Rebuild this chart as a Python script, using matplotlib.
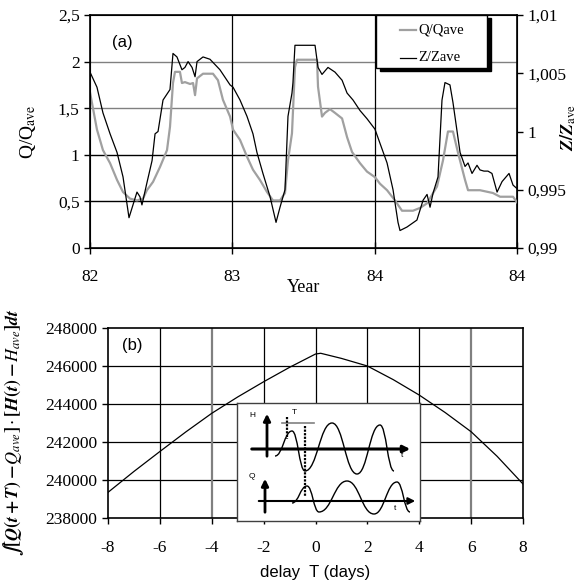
import numpy as np
import matplotlib
matplotlib.use("Agg")
import matplotlib.pyplot as plt
from matplotlib.path import Path
from matplotlib.patches import PathPatch, Rectangle
from matplotlib.lines import Line2D

plt.rcParams['mathtext.fontset'] = 'stix'

# ---------------- data (a) ----------------
q_year = [82.000, 82.049, 82.091, 82.141, 82.190, 82.232, 82.281, 82.330, 82.372, 82.400,
          82.443, 82.492, 82.541, 82.562, 82.583, 82.597, 82.632, 82.646, 82.667, 82.703,
          82.724, 82.738, 82.752, 82.794, 82.864, 82.899, 82.934, 82.984, 83.005, 83.054,
          83.103, 83.145, 83.194, 83.244, 83.286, 83.335, 83.370, 83.391, 83.419, 83.440,
          83.454, 83.595, 83.602, 83.630, 83.651, 83.686, 83.721, 83.771, 83.806, 83.841,
          83.897, 83.946, 84.002, 84.037, 84.087, 84.143, 84.192, 84.269, 84.319, 84.368,
          84.438, 84.480, 84.515, 84.550, 84.586, 84.635, 84.656, 84.740, 84.831, 84.881,
          84.972, 85.000]
q_ratio = [1.67, 1.27, 1.05, 0.91, 0.73, 0.60, 0.53, 0.51, 0.53, 0.62,
           0.71, 0.87, 1.05, 1.30, 1.77, 1.89, 1.89, 1.77, 1.78, 1.76,
           1.77, 1.64, 1.82, 1.87, 1.87, 1.80, 1.59, 1.41, 1.27, 1.16,
           0.98, 0.84, 0.73, 0.60, 0.51, 0.51, 0.59, 0.94, 1.23, 1.94,
           2.02, 2.02, 1.73, 1.41, 1.45, 1.49, 1.45, 1.39, 1.19, 1.03,
           0.91, 0.82, 0.76, 0.69, 0.62, 0.51, 0.40, 0.40, 0.43, 0.48,
           0.66, 0.94, 1.25, 1.25, 1.02, 0.73, 0.62, 0.62, 0.59, 0.55,
           0.55, 0.49]

z_year = [82.000, 82.049, 82.091, 82.141, 82.190, 82.232, 82.274, 82.302, 82.330, 82.351,
          82.365, 82.400, 82.436, 82.457, 82.478, 82.513, 82.562, 82.583, 82.611, 82.646,
          82.667, 82.689, 82.717, 82.738, 82.752, 82.794, 82.843, 82.913, 82.984, 83.005,
          83.054, 83.103, 83.145, 83.173, 83.215, 83.265, 83.307, 83.335, 83.370, 83.391,
          83.419, 83.426, 83.440, 83.581, 83.602, 83.630, 83.672, 83.721, 83.771, 83.806,
          83.848, 83.897, 83.946, 84.002, 84.037, 84.087, 84.129, 84.164, 84.178, 84.227,
          84.297, 84.340, 84.368, 84.389, 84.410, 84.445, 84.473, 84.494, 84.529, 84.550,
          84.600, 84.635, 84.656, 84.684, 84.719, 84.740, 84.768, 84.796, 84.824, 84.860,
          84.895, 84.944, 84.972, 85.000]
z_ratio = [1.0051, 1.0038, 1.0016, 0.9998, 0.9982, 0.9961, 0.9926, 0.9937, 0.9948, 0.9944,
           0.9937, 0.9956, 0.9975, 0.9998, 1.0000, 1.0027, 1.0036, 1.0067, 1.0064, 1.0053,
           1.0055, 1.0060, 1.0055, 1.0047, 1.0060, 1.0064, 1.0062, 1.0053, 1.0040, 1.0038,
           1.0027, 1.0013, 0.9998, 0.9982, 0.9964, 0.9944, 0.9922, 0.9935, 0.9950, 1.0013,
           1.0033, 1.0042, 1.0074, 1.0074, 1.0055, 1.0049, 1.0055, 1.0051, 1.0044, 1.0033,
           1.0027, 1.0018, 1.0011, 1.0002, 0.9990, 0.9973, 0.9950, 0.9922, 0.9915, 0.9918,
           0.9924, 0.9941, 0.9946, 0.9935, 0.9947, 0.9961, 1.0027, 1.0042, 1.0040, 1.0025,
           0.9982, 0.9970, 0.9973, 0.9964, 0.9971, 0.9967, 0.9966, 0.9966, 0.9964, 0.9948,
           0.9957, 0.9964, 0.9954, 0.9951]

series_names = ['Q/Qave', 'Z/Zave']
a_xticks = [82, 83, 84, 85]
a_xticklabels = ["82", "83", "84", "84"]
a_lticks = [0, 0.5, 1, 1.5, 2, 2.5]
a_lticklabels = ["0", "0,5", "1", "1,5", "2", "2,5"]
a_rticks = [0.99, 0.995, 1.0, 1.005, 1.01]
a_rticklabels = ["0,99", "0,995", "1", "1,005", "1,01"]

# ---------------- data (b) ----------------
delay = [-8, -7, -6, -5, -4, -3, -2, -1, 0, 0.2, 1, 2, 3, 4, 5, 6, 7, 8]
corr = [239350, 240450, 241500, 242530, 243510, 244370, 245170, 245930, 246630, 246670,
        246400, 246000, 245280, 244470, 243550, 242540, 241250, 239790]
b_xticks = [-8, -6, -4, -2, 0, 2, 4, 6, 8]
b_yticks = [238000, 240000, 242000, 244000, 246000, 248000]

serif = 'Liberation Serif'
sans = 'Liberation Sans'

fig = plt.figure(figsize=(5.83, 5.84), dpi=100)

# ---------------- panel (a) ----------------
axa = fig.add_axes([90/583, 1-248/584, 427/583, 233/584])
axa.set_xlim(82, 85)
axa.set_ylim(0, 2.5)
for v, c in [(0.5, 'black'), (1.0, 'black'), (1.5, '#808080'), (2.0, '#808080')]:
    axa.axhline(v, color=c, lw=1.0, zorder=1)
for v in [83, 84]:
    axa.axvline(v, color='black', lw=0.9, zorder=1)
axa.plot(q_year, q_ratio, color='#a0a0a0', lw=1.6, zorder=3)
axa.set_xticks(a_xticks)
axa.set_xticklabels(a_xticklabels, fontfamily=serif, fontsize=12.5)
axa.set_yticks(a_lticks)
axa.set_yticklabels(a_lticklabels, fontfamily=serif, fontsize=12.5)
axa.tick_params(axis='both', direction='out', length=4, width=1)
axa.tick_params(axis='x', direction='inout', length=8, pad=11)
axa.set_ylabel(r'Q/Q$_{\mathrm{ave}}$', fontfamily=serif, fontsize=14)
axa.yaxis.set_label_coords(-(90 - 38) / 427, 0.5)
axa.set_xlabel('Year', fontfamily=serif, fontsize=13, labelpad=-4)
axa.text(0.052, 0.88, '(a)', transform=axa.transAxes, fontfamily=sans, fontsize=12,
         va='center')
for s in axa.spines.values():
    s.set_linewidth(1.2)

axr = axa.twinx()
axr.set_ylim(0.99, 1.01)
axr.plot(z_year, z_ratio, color='black', lw=0.9, zorder=4)
axr.set_yticks(a_rticks)
axr.set_yticklabels(a_rticklabels, fontfamily=serif, fontsize=12.5)
axr.tick_params(axis='y', direction='out', length=4, width=1)
axr.set_ylabel(r'$\boldsymbol{Z/Z}_{\mathrm{ave}}$', fontsize=13, rotation=90, va='center')
axr.yaxis.set_label_coords((568 - 90) / 427, (248 - 128) / 233)

# legend box (drawn by hand to match the reference padding)
T = axr.transAxes
bx0, bx1, by0, by1 = 0.670, 0.930, 0.7725, 1.0
axr.add_patch(Rectangle((bx0 + 0.008, by0 - 0.013), bx1 - bx0, by1 - by0, transform=T,
                        facecolor='black', edgecolor='black', zorder=9, clip_on=False))
axr.add_patch(Rectangle((bx0, by0), bx1 - bx0, by1 - by0, transform=T,
                        facecolor='white', edgecolor='black', lw=1.0, zorder=10,
                        clip_on=False))
for yy, col, lw, name in [(0.9356, '#a0a0a0', 1.6, series_names[0]),
                          (0.8155, 'black', 0.9, series_names[1])]:
    axr.add_line(Line2D([0.726, 0.763], [yy, yy], transform=T, color=col, lw=lw,
                        zorder=11))
    axr.text(0.768, yy, name, transform=T, fontfamily=serif, fontsize=10.5,
             va='center', ha='left', zorder=11)

# ---------------- panel (b) ----------------
axb = fig.add_axes([108/583, 1-518/584, 415/583, 190/584])
axb.set_xlim(-8, 8)
axb.set_ylim(238000, 248000)
for v in b_yticks[1:-1]:
    axb.axhline(v, color='black', lw=0.9, zorder=1)
for v in b_xticks[1:-1]:
    if v in (-4, 6):
        axb.axvline(v, color='#808080', lw=1.6, zorder=1)
    else:
        axb.axvline(v, color='black', lw=0.9, zorder=1)
axb.plot(delay, corr, color='black', lw=0.9, zorder=3)
axb.set_xticks(b_xticks)
axb.set_xticklabels([str(v) for v in b_xticks], fontfamily=serif, fontsize=12.5)
axb.set_yticks(b_yticks)
axb.set_yticklabels([str(v) for v in b_yticks], fontfamily=serif, fontsize=12.5)
axb.tick_params(axis='both', direction='out', length=4, width=1)
axb.tick_params(axis='x', pad=12)
axb.set_xlabel('delay  T (days)', fontfamily=sans, fontsize=12, labelpad=6)
axb.set_ylabel(r'$\boldsymbol{\int[Q(t+T)-Q_{ave}]}\cdot\boldsymbol{[H(t)-H_{ave}]dt}$',
               fontsize=13)
axb.yaxis.set_label_coords(-(108 - 26) / 415, (518 - 432) / 190)
axb.text(0.034, 0.91, '(b)', transform=axb.transAxes, fontfamily=sans, fontsize=12,
         va='center')
for s in axb.spines.values():
    s.set_linewidth(1.2)

# ---------------- inset schematic ----------------
ins = fig.add_axes([237/583, 1-521/584, 183/583, 118/584])
ins.set_xlim(0, 183)
ins.set_ylim(118, 0)
ins.set_xticks([])
ins.set_yticks([])
for s in ins.spines.values():
    s.set_color('#404040')
    s.set_linewidth(1.0)
ins.set_zorder(5)

h_ext = [(38, 53), (55, 28), (68, 68), (95, 20), (120, 71), (143, 22), (157, 68)]
q_ext = [(55, 100), (70, 83), (82, 109), (110, 78), (137, 111), (160, 79), (173, 109)]


def smooth_path(pts):
    verts = [pts[0]]
    codes = [Path.MOVETO]
    for (x0, y0), (x1, y1) in zip(pts[:-1], pts[1:]):
        d = (x1 - x0) * 0.45
        verts += [(x0 + d, y0), (x1 - d, y1), (x1, y1)]
        codes += [Path.CURVE4] * 3
    return Path(verts, codes)


ins.add_patch(PathPatch(smooth_path(h_ext), fc='none', ec='black', lw=1.0))
ins.add_patch(PathPatch(smooth_path(q_ext), fc='none', ec='black', lw=1.0))

ins.annotate('', xy=(176, 46), xytext=(12, 46),
             arrowprops=dict(arrowstyle='-|>', lw=2.2, color='black', mutation_scale=10))
ins.annotate('', xy=(30, 8), xytext=(30, 56),
             arrowprops=dict(arrowstyle='-|>', lw=2.0, color='black', mutation_scale=10))
ins.annotate('', xy=(181, 98), xytext=(19, 98),
             arrowprops=dict(arrowstyle='-|>', lw=1.5, color='black', mutation_scale=10))
ins.annotate('', xy=(28, 73), xytext=(28, 112),
             arrowprops=dict(arrowstyle='-|>', lw=2.0, color='black', mutation_scale=10))
ins.text(15, 13, 'H', fontfamily=sans, fontsize=6, ha='center', va='center')
ins.text(15, 74, 'Q', fontfamily=sans, fontsize=6, ha='center', va='center')
ins.text(165, 53, 't', fontfamily=sans, fontsize=6, ha='center', va='center')
ins.text(158, 106, 't', fontfamily=sans, fontsize=6, ha='center', va='center')
ins.text(57, 10, 'T', fontfamily=sans, fontsize=6, ha='center', va='center')
ins.plot([45, 77], [20, 20], color='#808080', lw=1.2)
ins.plot([50, 50], [14, 36], color='black', lw=1.6, ls=(0, (1, 0.6)))
ins.plot([68, 68], [23, 93], color='black', lw=1.6, ls=(0, (1, 0.6)))

fig.savefig('out.png', dpi=100)
